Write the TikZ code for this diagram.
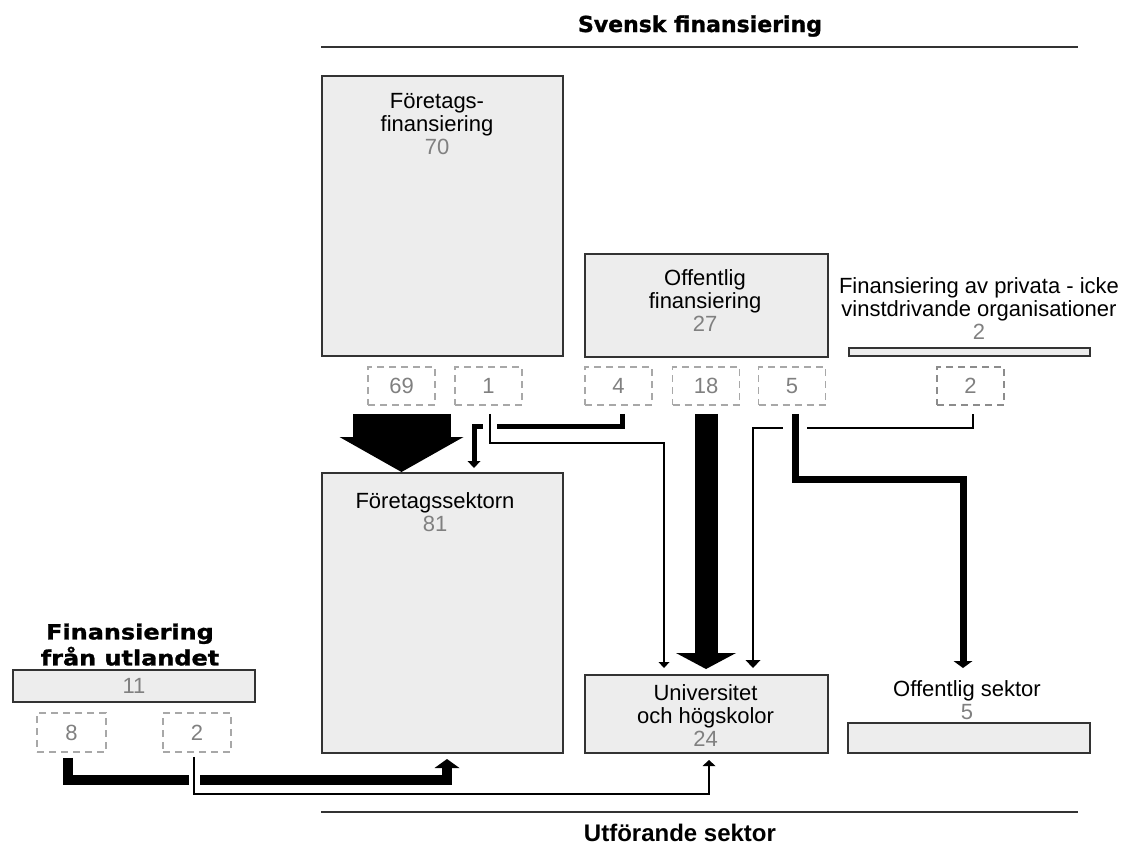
\documentclass[tikz,border=0pt]{standalone}
\usepackage{fontspec}
\setmainfont{Liberation Sans}
\newfontfamily\hdfont{DejaVu Sans}[BoldFeatures={FakeBold=1.2}]
\usetikzlibrary{arrows.meta,calc}
\definecolor{boxfill}{HTML}{EDEDED}
\definecolor{boxline}{HTML}{333333}
\definecolor{numgray}{HTML}{808080}
\definecolor{dashgray}{HTML}{A8A8A8}
\definecolor{dashdark}{HTML}{8C8C8C}
\newcommand{\nm}[1]{\textcolor{numgray}{#1}}
\begin{document}
\begin{tikzpicture}[x=1pt,y=-1pt,
  box/.style={draw=boxline,fill=boxfill,line width=2pt,inner sep=0pt,anchor=north west},
  dbox/.style={draw=dashgray,line width=1.5pt,dash pattern=on 7pt off 5pt,
    minimum width=67pt,minimum height=38pt,inner sep=0pt,text=numgray,
    font=\fontsize{22}{23}\selectfont},
  txt/.style={align=center,inner sep=0pt,anchor=north,font=\fontsize{22}{23}\selectfont},
  hdtxt/.style={inner sep=0pt,anchor=base},
  rule/.style={draw=boxline,line width=1.5pt},
  blk/.style={draw=black,line cap=butt,line join=miter}
]
\useasboundingbox (0,0) rectangle (1137,847);

% header / footer rules
\coordinate (hl) at (321,47);
\coordinate (hr) at (1078,47);
\coordinate (bl) at (321,812);
\coordinate (br) at (1078,812);
\draw[rule] (hl) -- (hr);
\draw[rule] (bl) -- (br);
\node[hdtxt,font=\hdfont\bfseries\fontsize{22}{26}\selectfont] (hdsv) at (700,32) {Svensk finansiering};
\node[hdtxt,font=\bfseries\fontsize{24}{28}\selectfont] (hdut) at (680,841) {Utförande sektor};

% boxes
\node[box,minimum width=241pt,minimum height=280pt] (ff) at (321,75) {};
\node[box,minimum width=243pt,minimum height=103pt] (of) at (584,253) {};
\node[box,minimum width=241pt,minimum height=8pt] (privbar) at (848,347) {};
\node[box,minimum width=241pt,minimum height=280pt] (fsek) at (321,472) {};
\node[box,minimum width=243pt,minimum height=78pt] (univ) at (584,674) {};
\node[box,minimum width=242pt,minimum height=30pt] (osek) at (847,722) {};
\node[box,anchor=center,minimum width=242pt,minimum height=32pt,
      font=\fontsize{22}{23}\selectfont] (utl) at (134,686) {\nm{11}};

% texts
\node[txt] (tff) at (437,92) {\strut Företags-\\\strut finansiering\\\strut\nm{70}};
\node[txt] (tfsek) at (435,492) {\strut Företagssektorn\\\strut\nm{81}};
\node[txt] (tof) at (705,269) {\strut Offentlig\\\strut finansiering\\\strut\nm{27}};
\node[txt] (tpriv) at (979,277) {\strut Finansiering av privata - icke\\\strut vinstdrivande organisationer\\\strut\nm{2}};
\node[txt] (tuniv) at (705.5,684) {\strut Universitet\\\strut och högskolor\\\strut\nm{24}};
\node[txt] (tosek) at (967,680) {\strut Offentlig sektor\\\strut\nm{5}};
\node[txt,font=\hdfont\bfseries\fontsize{21}{21}\selectfont] (tutl) at (130,623.3)
  {\scalebox{1.14}[1]{\strut Finansiering}\\\scalebox{1.14}[1]{\strut från utlandet}};

% dashed amount boxes
\node[dbox] (d69) at (401.5,386) {69};
\node[dbox] (d1) at (488.5,386) {1};
\node[dbox] (d4) at (618.5,386) {4};
\node[dbox] (d18) at (706,386) {18};
\node[dbox] (d5) at (792,386) {5};
\node[dbox,draw=dashdark,line width=2pt] (d2r) at (970.5,386) {2};
\node[dbox,minimum width=69pt,minimum height=39pt] (d8) at (71.5,732.5) {8};
\node[dbox,minimum width=68pt,minimum height=39pt] (d2l) at (197,732.5) {2};

% block arrows
\draw[blk,line width=98pt,-{Triangle[width=124pt,length=35pt,line width=0pt]}]
  ([yshift=-8pt]d69.south) -- (d69.south |- fsek.north);
\draw[blk,line width=23pt,-{Triangle[width=60pt,length=16pt,line width=0pt]}]
  ([yshift=-8pt]d18.south) -- ([yshift=5pt]d18.south |- univ.north);

% 4 -> Foretagssektorn
\draw[blk,line width=5pt,-{Triangle[width=13pt,length=7pt,line width=0pt]}]
  ([xshift=3.5pt,yshift=-8pt]d4.south) -- ++(0,13) -| ([xshift=31.5pt,yshift=4pt]fsek.north);
% 1 -> Universitet
\draw[blk,line width=1.5pt,preaction={draw=white,line width=14pt,-},
  -{Triangle[width=11pt,length=6pt,line width=0pt]}]
  ([xshift=1.5pt,yshift=-8pt]d1.south) -- ++(0,29) -| ([xshift=-42.5pt,yshift=6pt]univ.north);
% 2 (private) -> Universitet
\draw[blk,line width=2.5pt,-{Triangle[width=15pt,length=8pt,line width=0pt]}]
  ([xshift=2.5pt,yshift=-8pt]d2r.south) -- ++(0,14) -| ([xshift=46.5pt,yshift=6pt]univ.north);
% 5 -> Offentlig sektor
\draw[blk,line width=7pt,preaction={draw=white,line width=24pt,-},
  -{Triangle[width=19pt,length=7pt,line width=0pt]}]
  ([xshift=3pt,yshift=-8pt]d5.south) -- ++(0,66) -| ([xshift=-6pt,yshift=54pt]osek.north);
% 8 -> Foretagssektorn
\draw[blk,line width=10pt,-{Triangle[width=25pt,length=9pt,line width=0pt]}]
  ([xshift=-3.5pt,yshift=-5pt]d8.south) -- ++(0,22) -| ([xshift=4.5pt,yshift=-5pt]fsek.south);
% 2 (abroad) -> Universitet
\draw[blk,line width=1.5pt,preaction={draw=white,line width=11pt,-},
  -{Triangle[width=13pt,length=6pt,line width=0pt]}]
  ([xshift=-3pt,yshift=-4pt]d2l.south) -- ++(0,37) -| ([xshift=2.5pt,yshift=-6pt]univ.south);
\end{tikzpicture}
\end{document}
